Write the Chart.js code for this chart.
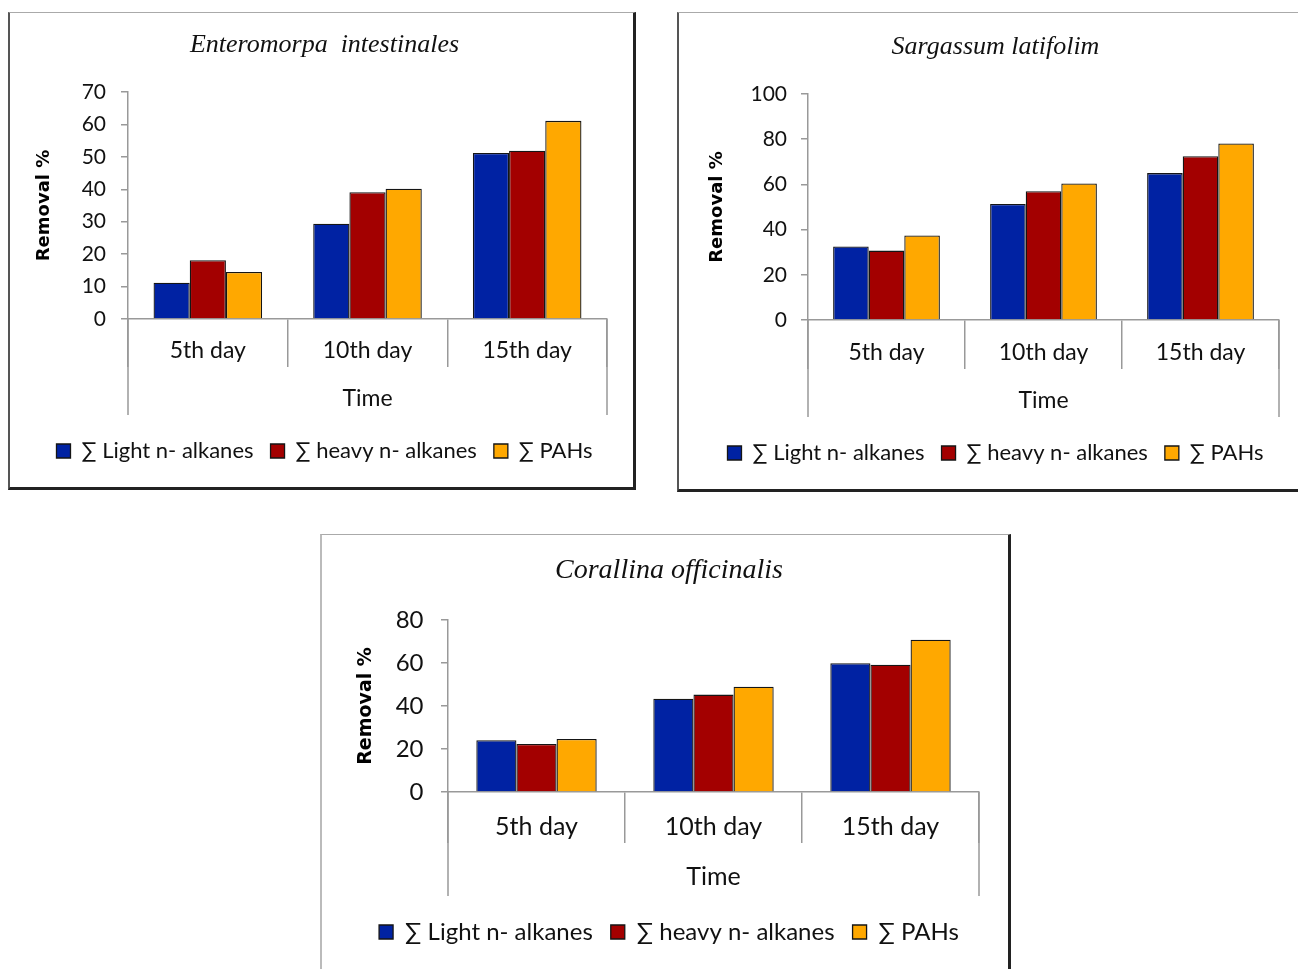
<!DOCTYPE html>
<html><head><meta charset="utf-8">
<script src="https://cdn.jsdelivr.net/npm/chart.js@4.4.0/dist/chart.umd.min.js"></script>
<style>
html,body{margin:0;padding:0;background:#fff;width:1298px;height:969px;overflow:hidden;position:relative}
.box{position:absolute;box-sizing:border-box;border-left:2px solid #555;border-top:1px solid #aaa;border-right:3px solid #222;border-bottom:3px solid #222;background:#fff}
.box canvas{position:absolute;left:0;top:0}
</style></head><body>
<div class="box" style="left:8px;top:12px;width:628px;height:478px"><canvas id="c1" width="623" height="474"></canvas></div>
<div class="box" style="left:677px;top:12px;width:624px;height:480px"><canvas id="c2" width="619" height="476"></canvas></div>
<div class="box" style="left:320px;top:534px;width:691px;height:440px;border-left-color:#bbb"><canvas id="c3" width="686" height="436"></canvas></div>
<script>
const categories = ['5th day', '10th day', '15th day'];
const seriesNames = ['∑ Light n- alkanes', '∑ heavy n- alkanes', '∑ PAHs'];
const yTitle = 'Removal %';
const xTitle = 'Time';

const enteroLight = [11.2, 29.4, 51.2];
const enteroHeavy = [18.1, 39.1, 51.9];
const enteroPAHs  = [14.5, 40.2, 61.1];

const sargLight = [32.5, 51.3, 65.0];
const sargHeavy = [30.7, 57.0, 72.5];
const sargPAHs  = [37.4, 60.4, 78.1];

const coralLight = [24.1, 43.4, 59.9];
const coralHeavy = [22.3, 45.3, 59.2];
const coralPAHs  = [24.7, 49.0, 70.8];

const colors = ['#0022A3', '#A30000', '#FFA800'];

const outerLines = {
  id: 'outerLines',
  afterDraw(chart, args, opts) {
    const {ctx, chartArea: a} = chart;
    ctx.save();
    ctx.strokeStyle = '#999';
    ctx.lineWidth = 1.5;
    ctx.beginPath();
    [a.left, a.right].forEach(x => { ctx.moveTo(x, a.bottom); ctx.lineTo(x, a.bottom + opts.len); });
    ctx.stroke();
    ctx.restore();
  }
};

function build(id, p) {
  const sets = [p.light, p.heavy, p.pahs];
  new Chart(document.getElementById(id), {
    type: 'bar',
    data: {
      labels: categories,
      datasets: sets.map((d, i) => ({
        label: seriesNames[i], data: d, backgroundColor: colors[i],
        borderColor: '#151515', borderWidth: 1.3,
        categoryPercentage: 0.68, barPercentage: 1.0
      }))
    },
    options: {
      responsive: false, animation: false, devicePixelRatio: 1,
      layout: {padding: {left: p.padLeft, right: 0, top: 0, bottom: p.pb}},
      plugins: {
        title: {display: true, text: p.title, color: '#111',
          font: {family: 'Liberation Serif', style: 'italic', weight: 'normal', size: p.titleSize},
          padding: {top: p.tTop, bottom: p.tBottom}},
        legend: {position: 'bottom',
          labels: {boxWidth: 14, boxHeight: 14, padding: p.legPad, color: '#111',
            font: {family: 'Lato', size: p.legSize}}},
        tooltip: {enabled: false},
        outerLines: {len: p.outerLen}
      },
      scales: {
        x: {
          grid: {offset: true, drawOnChartArea: false, tickLength: p.divLen, color: '#999', lineWidth: 1.5},
          border: {color: '#999', width: 1.5},
          ticks: {color: '#111', font: {family: 'Lato', size: p.xTickSize}, padding: p.xTickPad, maxRotation: 0},
          title: {display: true, text: xTitle, color: '#111', font: {family: 'Lato', size: p.timeSize},
            padding: {top: 0, bottom: p.timePadB}},
          afterFit(s) { s.height = p.xH; }
        },
        y: {
          min: 0, max: p.max,
          ticks: {stepSize: p.step, color: '#111', font: {family: 'Lato', size: p.yTickSize}, padding: p.yTickPad},
          grid: {drawOnChartArea: false, tickLength: 7, color: '#999', lineWidth: 1.5},
          border: {color: '#999', width: 1.5},
          title: {display: true, text: yTitle, color: '#000',
            font: {family: 'DejaVu Sans', weight: 'bold', size: p.ytSize},
            padding: {top: p.ytPad, bottom: 0}},
          afterFit(s) { s.width = p.yW; }
        },
        y2: {
          position: 'right', display: true,
          ticks: {display: false}, grid: {display: false}, border: {display: false},
          afterFit(s) { s.width = p.rightW; }
        }
      }
    },
    plugins: [outerLines]
  });
}

build('c1', {
  light: enteroLight, heavy: enteroHeavy, pahs: enteroPAHs,
  title: 'Enteromorpa  intestinales', titleSize: 26, tTop: 16.4, tBottom: 31.4,
  max: 70, step: 10, padLeft: 6, yW: 112, rightW: 26, pb: 15,
  xTickSize: 23, yTickSize: 21, timeSize: 23, legSize: 22, legPad: 17,
  divLen: 48, xTickPad: -29.8, xH: 104, timePadB: 10.2, outerLen: 96,
  ytSize: 18, ytPad: 17.2, yTickPad: 15
});

build('c2', {
  light: sargLight, heavy: sargHeavy, pahs: sargPAHs,
  title: 'Sargassum latifolim', titleSize: 26, tTop: 18.4, tBottom: 31.4,
  max: 100, step: 20, padLeft: 14, yW: 115, rightW: 19, pb: 15,
  xTickSize: 23, yTickSize: 21, timeSize: 23, legSize: 22, legPad: 17,
  divLen: 49, xTickPad: -29.8, xH: 105, timePadB: 10.2, outerLen: 97,
  ytSize: 18, ytPad: 13.2, yTickPad: 14
});

build('c3', {
  light: coralLight, heavy: coralHeavy, pahs: coralPAHs,
  title: 'Corallina officinalis', titleSize: 28, tTop: 19.2, tBottom: 32.2,
  max: 80, step: 20, padLeft: 8, yW: 118, rightW: 29, pb: 17,
  xTickSize: 25, yTickSize: 24, timeSize: 25, legSize: 24, legPad: 18,
  divLen: 51, xTickPad: -31, xH: 110, timePadB: 10, outerLen: 104,
  ytSize: 19, ytPad: 24.6, yTickPad: 17.5
});
</script>
</body></html>
